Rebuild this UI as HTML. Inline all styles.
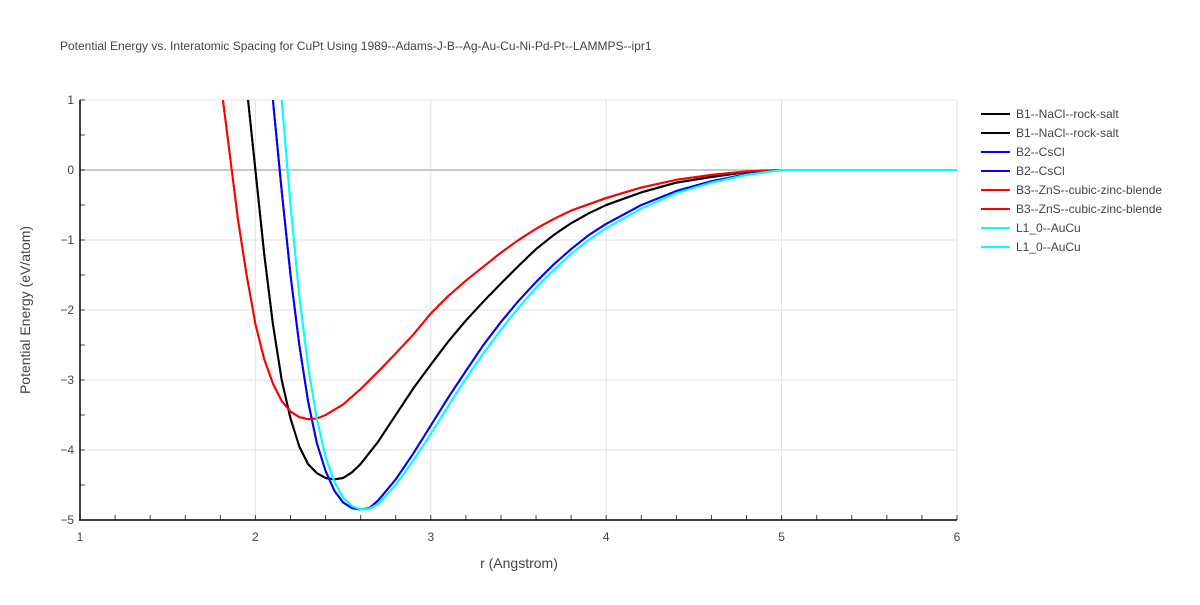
<!DOCTYPE html>
<html><head><meta charset="utf-8"><style>
body{margin:0;background:#fff;}
svg{font-family:"Liberation Sans",sans-serif;}
</style></head><body>
<svg id="c" width="1200" height="600">
<text x="60" y="50" font-size="12" fill="#444">Potential Energy vs. Interatomic Spacing for CuPt Using 1989--Adams-J-B--Ag-Au-Cu-Ni-Pd-Pt--LAMMPS--ipr1</text>
<defs><clipPath id="clip"><rect x="80" y="100" width="877" height="420"/></clipPath></defs>
<g id="grid"></g>
<g id="series" clip-path="url(#clip)"></g>
<g id="axes"></g>
<g id="legend"></g>
<text x="519" y="568" font-size="14" fill="#444" text-anchor="middle">r (Angstrom)</text>
<text transform="translate(30,310) rotate(-90)" font-size="14" fill="#444" text-anchor="middle">Potential Energy (eV/atom)</text>
</svg>
<script>
const xTicks=[1,2,3,4,5,6];
const yTicks=[1,0,-1,-2,-3,-4,-5];
const seriesNames=["B1--NaCl--rock-salt","B2--CsCl","B3--ZnS--cubic-zinc-blende","L1_0--AuCu"];
const seriesColors=["#000000","#0000ff","#ff0000","#00ffff"];
const b1R=[1.95,2.0,2.05,2.1,2.15,2.2,2.25,2.3,2.35,2.4,2.45,2.5,2.55,2.6,2.7,2.8,2.9,3.0,3.1,3.2,3.3,3.4,3.5,3.6,3.7,3.8,3.9,4.0,4.2,4.4,4.6,4.8,5.0,6.0];
const b1E=[1.2,0,-1.2,-2.2,-3.0,-3.55,-3.95,-4.2,-4.33,-4.4,-4.42,-4.4,-4.32,-4.2,-3.88,-3.5,-3.12,-2.78,-2.45,-2.15,-1.88,-1.62,-1.37,-1.13,-0.93,-0.76,-0.62,-0.5,-0.32,-0.18,-0.1,-0.03,0,0];
const b2R=[2.1,2.15,2.2,2.25,2.3,2.35,2.4,2.45,2.5,2.55,2.6,2.65,2.7,2.8,2.9,3.0,3.1,3.2,3.3,3.4,3.5,3.6,3.7,3.8,3.9,4.0,4.2,4.4,4.6,4.8,5.0,6.0];
const b2E=[1.0,-0.3,-1.5,-2.5,-3.3,-3.9,-4.3,-4.58,-4.75,-4.83,-4.85,-4.83,-4.72,-4.42,-4.05,-3.65,-3.25,-2.87,-2.5,-2.17,-1.87,-1.6,-1.35,-1.13,-0.93,-0.77,-0.5,-0.3,-0.16,-0.06,0,0];
const b3R=[1.8,1.85,1.9,1.95,2.0,2.05,2.1,2.15,2.2,2.25,2.3,2.35,2.4,2.5,2.6,2.7,2.8,2.9,3.0,3.1,3.2,3.3,3.4,3.5,3.6,3.7,3.8,4.0,4.2,4.4,4.6,4.8,5.0,6.0];
const b3E=[1.3,0.3,-0.7,-1.5,-2.2,-2.7,-3.05,-3.3,-3.45,-3.53,-3.56,-3.55,-3.5,-3.35,-3.13,-2.88,-2.62,-2.35,-2.05,-1.8,-1.58,-1.38,-1.18,-1.0,-0.84,-0.7,-0.58,-0.4,-0.25,-0.14,-0.07,-0.02,0,0];
const l10R=[2.15,2.2,2.25,2.3,2.35,2.4,2.45,2.5,2.55,2.6,2.65,2.7,2.8,2.9,3.0,3.1,3.2,3.3,3.4,3.5,3.6,3.7,3.8,3.9,4.0,4.2,4.4,4.6,4.8,5.0,6.0];
const l10E=[1.0,-0.5,-1.8,-2.8,-3.55,-4.1,-4.45,-4.68,-4.8,-4.85,-4.84,-4.77,-4.5,-4.15,-3.77,-3.37,-2.98,-2.62,-2.28,-1.97,-1.68,-1.43,-1.2,-1.0,-0.83,-0.55,-0.33,-0.18,-0.07,0,0];
const NS="http://www.w3.org/2000/svg";
const X=v=>80+(v-1)*877/5, Y=v=>100+(1-v)*420/6;
function mk(t,a,p){const e=document.createElementNS(NS,t);for(const k in a)e.setAttribute(k,a[k]);p.appendChild(e);return e;}
const grid=document.getElementById('grid'),axes=document.getElementById('axes'),ser=document.getElementById('series'),leg=document.getElementById('legend');
xTicks.forEach(t=>{if(t>1){const l=mk('line',{x1:X(t),x2:X(t),y1:100,y2:520,stroke:'#e2e2e2'},grid);}
const tx=mk('text',{x:X(t),y:541,'font-size':12,fill:'#444','text-anchor':'middle'},axes);tx.textContent=t;});
yTicks.forEach(t=>{if(t>-5){const l=mk('line',{x1:80,x2:957,y1:Y(t),y2:Y(t),stroke:t===0?'#c8c8c8':'#e2e2e2','stroke-width':t===0?2:1},grid);}
const tx=mk('text',{x:74,y:Y(t)+4,'font-size':12,fill:'#444','text-anchor':'end'},axes);tx.textContent=t===0?'0':(t<0?'\u2212'+(-t):t);});
for(let i=0;i<=25;i++){const v=1+i*0.2;const l=mk('line',{x1:X(v),x2:X(v),y1:520,y2:515,stroke:'#444'},axes);}
for(let i=0;i<=12;i++){const v=1-i*0.5;const l=mk('line',{x1:80,x2:85,y1:Y(v),y2:Y(v),stroke:'#444'},axes);}
const xa=mk('line',{x1:79,x2:957,y1:520,y2:520,stroke:'#000','stroke-width':1.5},axes);
const ya=mk('line',{x1:80,x2:80,y1:100,y2:520,stroke:'#000','stroke-width':1.5},axes);
const data=[[b1R,b1E],[b2R,b2E],[b3R,b3E],[l10R,l10E]];
data.forEach((d,i)=>{for(let k=0;k<2;k++){const p=mk('path',{d:d[0].map((r,j)=>(j?'L':'M')+X(r).toFixed(1)+','+Y(d[1][j]).toFixed(1)).join(''),fill:'none',stroke:seriesColors[i],'stroke-width':2,'stroke-linejoin':'round'},ser);}});
for(let i=0;i<8;i++){const s=i>>1;const yy=114+i*19;const g=mk('g',{},leg);
mk('line',{x1:981,x2:1010,y1:yy,y2:yy,stroke:seriesColors[s],'stroke-width':2},g);
const t=mk('text',{x:1016,y:yy+4,'font-size':12,fill:'#444'},g);t.textContent=seriesNames[s];}
</script>
</body></html>
